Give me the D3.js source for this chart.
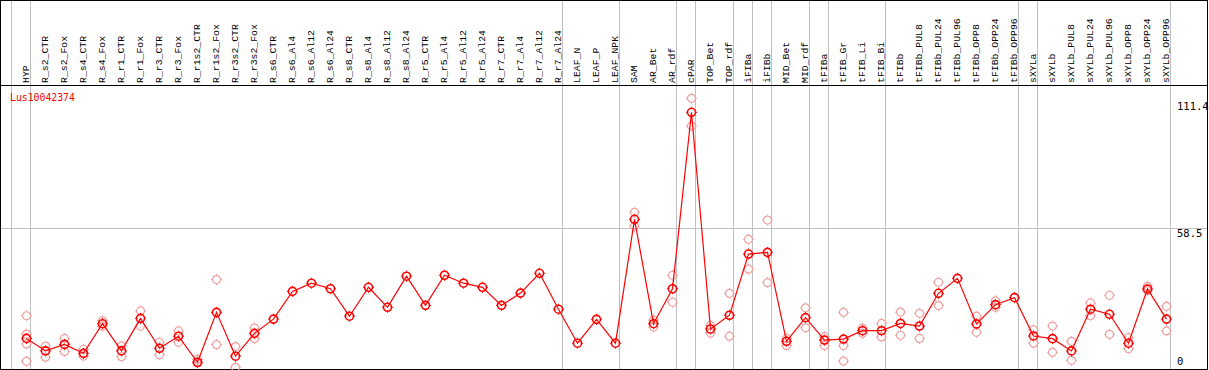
<!DOCTYPE html>
<meta charset="utf-8">
<body style="margin:0">
<script src="https://d3js.org/d3.v7.min.js"></script>
<script>

// Samples along the x axis
var samples = ["HYP","R_s2_CTR","R_s2_Fox","R_s4_CTR","R_s4_Fox","R_r1_CTR","R_r1_Fox","R_r3_CTR","R_r3_Fox",
  "R_r1s2_CTR","R_r1s2_Fox","R_r3s2_CTR","R_r3s2_Fox","R_s6_CTR","R_s6_Al4","R_s6_Al12","R_s6_Al24",
  "R_s8_CTR","R_s8_Al4","R_s8_Al12","R_s8_Al24","R_r5_CTR","R_r5_Al4","R_r5_Al12","R_r5_Al24",
  "R_r7_CTR","R_r7_Al4","R_r7_Al12","R_r7_Al24","LEAF_N","LEAF_P","LEAF_NPK","SAM","AR_Bet","AR_rdf",
  "cPAR","TOP_Bet","TOP_rdf","iFIBa","iFIBb","MID_Bet","MID_rdf","tFIBa","tFIB_Gr","tFIB_Li","tFIB_Bi",
  "tFIBb","tFIBb_PUL8","tFIBb_PUL24","tFIBb_PUL96","tFIBb_OPP8","tFIBb_OPP24","tFIBb_OPP96",
  "sXYLa","sXYLb","sXYLb_PUL8","sXYLb_PUL24","sXYLb_PUL96","sXYLb_OPP8","sXYLb_OPP24","sXYLb_OPP96"];

// Mean expression per sample
var means = [12.7,7.5,10.2,6.5,18.8,7.5,21.0,8.6,13.6,2.8,23.5,5.3,14.8,20.7,32.2,35.6,33.3,
  21.9,33.9,25.6,38.5,26.4,38.9,35.6,33.9,26.4,31.5,39.7,24.8,10.7,20.6,10.7,62.1,18.8,33.3,
  106.5,16.6,22.3,47.7,48.4,11.5,21.3,12.0,12.4,15.9,15.9,18.9,17.8,31.4,37.6,18.7,26.7,29.6,
  13.7,12.6,7.5,24.8,22.7,10.7,33.2,20.7];

// Individual replicates per sample
var replicates = [[22.1,14.5,10.4,3.2],[9.5,4.9],[12.7,7.3],[8.2,5.4],[20.0,17.8],[9.5,5.1],[24.1,17.8],
  [11.1,5.9],[15.8,11.1],[4.0,2.4],[37.1,10.1],[9.3,0.7],[17.0,12.6],[],[],[],[],
  [],[],[],[],[],[],[],[],[],[],[],[],[],[],[],[65.0,59.3],[20.3,17.4],[38.9,27.7],
  [112.3,100.8],[18.0,14.9],[31.4,13.6],[53.8,41.4],[61.8,35.8],[12.7,9.7],[25.4,17.1],[13.4,9.7],
  [23.5,9.7,3.3],[14.8,17.0],[18.9,13.3],[23.6,14.0],[23.1,12.7],[36.0,26.3],[],[21.9,15.2],[28.3,25.6],[],
  [16.2,10.7],[17.8,6.9],[11.5,3.6],[27.4,22.1],[30.6,14.4],[13.0,8.4],[34.3,32.5],[26.0,15.8]];

// Last sample of each group (a grey separator is drawn after it)
var groupEnds = ["HYP","R_r7_Al24","LEAF_NPK","AR_rdf","cPAR","TOP_rdf","iFIBa","iFIBb","MID_rdf",
  "tFIBa","tFIB_Bi","tFIBb_OPP96","sXYLa","sXYLb_OPP96"];

var gene = "Lus10042374";
var yTicks = [0, 58.5, 111.4];

var width = 1209, height = 370,
    headerH = 85, plotBottom = 369;

var svg = d3.select("body").append("svg")
    .attr("width", width)
    .attr("height", height)
    .style("display", "block");

var x = d3.scaleBand()
    .domain(samples)
    .range([17, 17 + 19 * samples.length]);

var y = d3.scaleLinear()
    .domain([0, 111.4])
    .range([369, 100.5]);

function cx(d) { return x(d) + x.bandwidth() / 2; }

// grey separators between sample groups
var seps = [cx(samples[0]) - x.bandwidth() + 4].concat(groupEnds.map(function(d) { return cx(d) + 4; }));
svg.selectAll(".sep")
    .data(seps)
    .enter().append("line")
    .attr("x1", function(d) { return Math.floor(d) + 0.5; })
    .attr("x2", function(d) { return Math.floor(d) + 0.5; })
    .attr("y1", 0)
    .attr("y2", plotBottom)
    .style("stroke", "#c0c0c0");

// middle horizontal grid line
svg.append("line")
    .attr("x1", 1).attr("x2", width - 2)
    .attr("y1", Math.round(y(yTicks[1])) + 0.5)
    .attr("y2", Math.round(y(yTicks[1])) + 0.5)
    .style("stroke", "#c0c0c0");

// frame and header divider
svg.append("rect")
    .attr("x", 0.5).attr("y", 0.5)
    .attr("width", width - 2).attr("height", plotBottom)
    .style("fill", "none")
    .style("stroke", "#000");
svg.append("line")
    .attr("x1", 0).attr("x2", width - 1)
    .attr("y1", headerH + 0.5).attr("y2", headerH + 0.5)
    .style("stroke", "#000");

// rotated sample labels
svg.selectAll(".lab")
    .data(samples)
    .enter().append("text")
    .attr("transform", function(d) { return "translate(" + cx(d) + "," + (headerH - 2) + ") rotate(-90)"; })
    .attr("dy", "0.3em")
    .style("font-family", "Liberation Mono")
    .style("font-size", "9.8px")
    .text(function(d) { return d; });

// gene name
svg.append("text")
    .attr("x", 10)
    .attr("y", 101)
    .style("font-family", "DejaVu Sans Mono")
    .style("font-size", "9.8px")
    .style("fill", "red")
    .text(gene);

// right hand value labels
svg.selectAll(".ytick")
    .data(yTicks)
    .enter().append("text")
    .attr("x", 1177)
    .attr("y", function(d) { return Math.min(y(d) + 1, 357); })
    .attr("dominant-baseline", "hanging")
    .style("font-family", "DejaVu Sans Mono")
    .style("font-size", "10.5px")
    .text(function(d) { return d; });

// marker: a circle with tiny ticks
function marker(g, colour, sw) {
  g.append("circle")
    .attr("r", 4)
    .style("fill", "none")
    .style("stroke", colour)
    .style("stroke-width", sw);
  g.append("path")
    .attr("d", "M0,-5.5V-4.5M0,4.5V5.5M-5.5,0H-4.5M4.5,0H5.5")
    .style("stroke", colour)
    .style("stroke-width", 1);
}

// replicate points
var reps = [];
samples.forEach(function(s, i) {
  replicates[i].forEach(function(v) { reps.push({s: s, v: v}); });
});
svg.selectAll(".rep")
    .data(reps)
    .enter().append("g")
    .attr("transform", function(d) { return "translate(" + cx(d.s) + "," + y(d.v) + ")"; })
    .each(function() { marker(d3.select(this), "#f0a0a0", 1.2); });

// mean line
var line = d3.line()
    .x(function(d, i) { return cx(samples[i]); })
    .y(function(d) { return y(d); });
svg.append("path")
    .datum(means)
    .attr("d", line)
    .style("fill", "none")
    .style("stroke", "red")
    .style("stroke-width", 1.2);

// mean points
svg.selectAll(".mean")
    .data(means)
    .enter().append("g")
    .attr("transform", function(d, i) { return "translate(" + cx(samples[i]) + "," + y(d) + ")"; })
    .each(function() { marker(d3.select(this), "red", 1.6); });

</script>
</body>
